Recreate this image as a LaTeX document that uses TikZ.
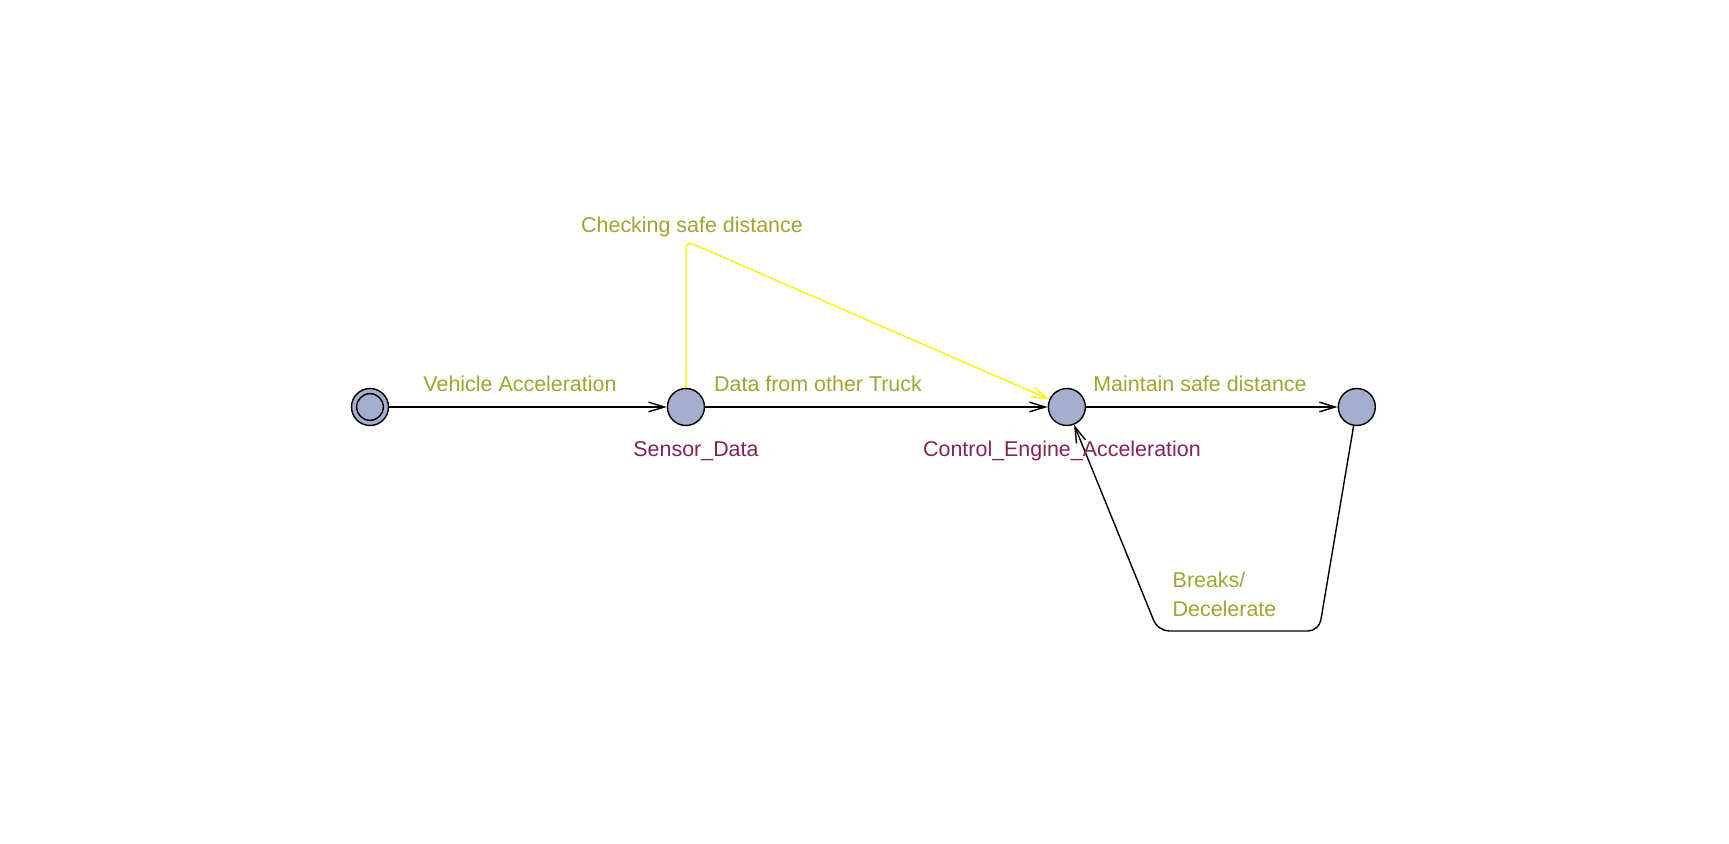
\documentclass[tikz,border=0pt]{standalone}
\usepackage{fontspec}
\setmainfont{Liberation Sans}
\usetikzlibrary{arrows.meta,automata,positioning}
\definecolor{locfill}{RGB}{166,174,205}
\definecolor{lblolive}{RGB}{163,163,48}
\definecolor{namepurple}{RGB}{133,35,85}

\begin{document}
\begin{tikzpicture}[x=0.02cm,y=-0.02cm,on grid,line width=0.8pt,
    >={Straight Barb[length=9pt,width=5.5pt]},
    font=\fontsize{12.2}{14}\selectfont,
    every state/.style={draw=black,line width=0.8pt,fill=locfill,minimum size=0.74cm,inner sep=0pt}]
  \tikzstyle{edgeL}=[text=lblolive,anchor=base,inner sep=0pt]
  \tikzstyle{nameL}=[text=namepurple,anchor=base,inner sep=0pt]
  \tikzstyle{initL}=[state,path picture={\draw[line width=0.8pt] (path picture bounding box.center) circle (0.267cm);}]
  \useasboundingbox (0,0) rectangle (1729,844);

  \node[initL]          (q_init)    at (370,407)               {};
  \node[state]          (q_sensor)  [right=6.32cm of q_init]   {};
  \node[state]          (q_control) [right=7.62cm of q_sensor] {};
  \node[state]          (q_safe)    [right=5.8cm of q_control] {};

  \draw[->] (q_init) -- (q_sensor);
  \draw[->] (q_sensor) -- (q_control);
  \draw[->] (q_control) -- (q_safe);
  \draw[->,yellow,rounded corners=0.16cm] (q_sensor) -- (686,241) -- (q_control);
  \draw[->,rounded corners=0.22cm] (q_safe) -- (1319,631) -- (1158,631) -- (q_control);

  \node[edgeL] (l_vehicle)  at (520,392) {Vehicle Acceleration};
  \node[edgeL] (l_data)     at (818,392) {Data from other Truck};
  \node[edgeL] (l_maintain) at (1200,392) {Maintain safe distance};
  \node[edgeL] (l_check)    at (692,233) {Checking safe distance};
  \node[edgeL,anchor=base west] (l_breaks) at (1172,588) {Breaks/};
  \node[edgeL,anchor=base west] (l_decel)  at (1172,617) {Decelerate};

  \node[nameL] (n_sensor)  at (696,457)  {Sensor\_Data};
  \node[nameL] (n_control) at (1062,457) {Control\_Engine\_Acceleration};
\end{tikzpicture}
\end{document}
